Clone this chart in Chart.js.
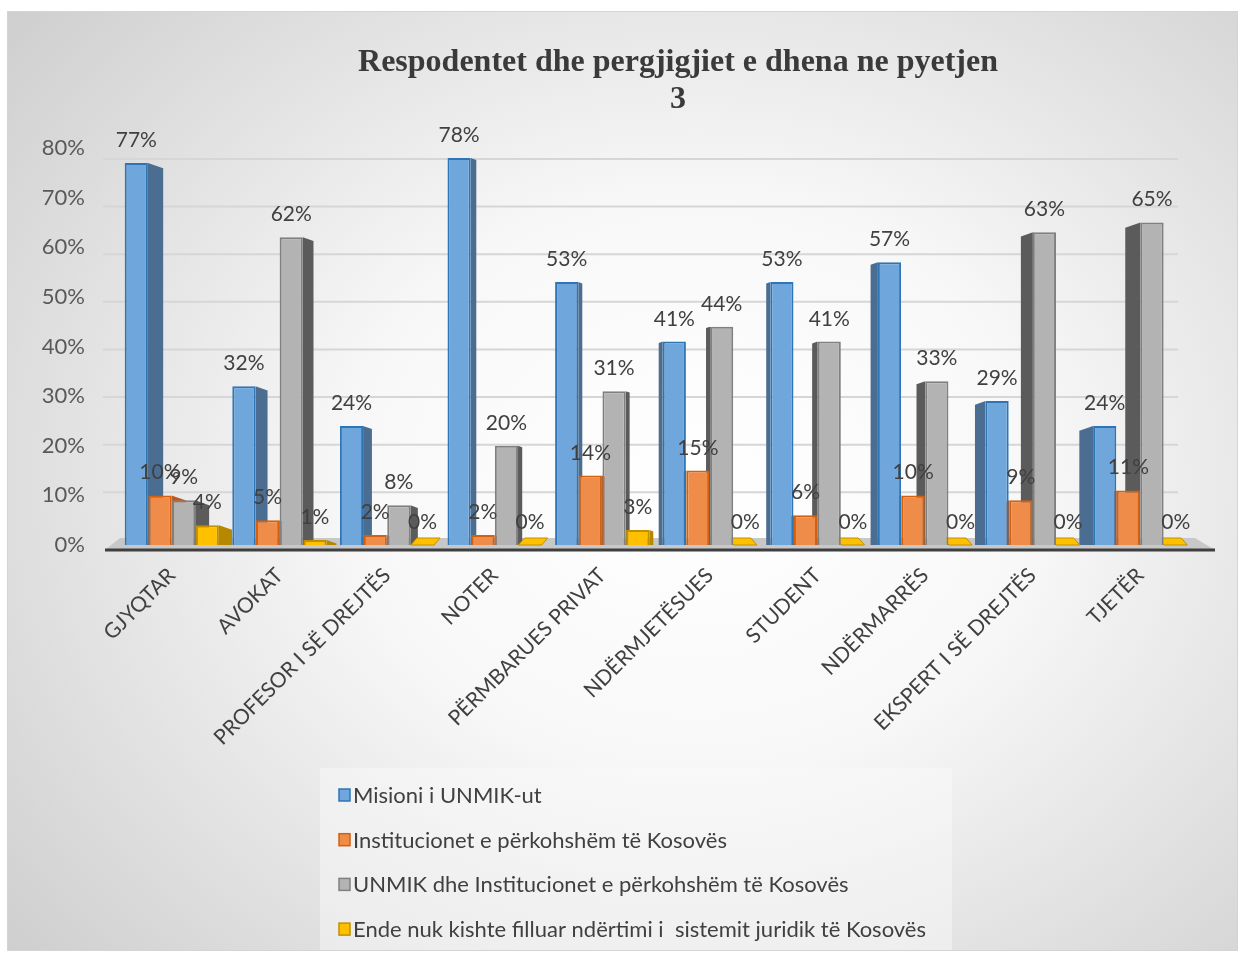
<!DOCTYPE html>
<html><head><meta charset="utf-8">
<script src="https://cdn.jsdelivr.net/npm/chart.js@4"></script>
<style>
html,body{margin:0;padding:0;background:#fff;}
#wrap{position:absolute;left:7px;top:11px;width:1229px;height:938px;border:1px solid #d4d4d4;
background:radial-gradient(ellipse 72% 78% at 56% 50%, #ffffff 0%, #f8f8f8 38%, #cfcfcf 100%);}
canvas{display:block}
</style></head>
<body>
<div id="wrap"><canvas id="c" width="1229" height="938"></canvas></div>
<script>
const titleLines = ["Respodentet dhe pergjigjiet e dhena ne pyetjen", "3"];
const categories = ["GJYQTAR","AVOKAT","PROFESOR I SË DREJTËS","NOTER","PËRMBARUES PRIVAT","NDËRMJETËSUES","STUDENT","NDËRMARRËS","EKSPERT I SË DREJTËS","TJETËR"];
const seriesNames = ["Misioni i UNMIK-ut","Institucionet e përkohshëm të Kosovës","UNMIK dhe Institucionet e përkohshëm të Kosovës","Ende nuk kishte filluar ndërtimi i  sistemit juridik të Kosovës"];
const unmik = [77,32,24,78,53,41,53,57,29,24];
const institucionet = [10,5,2,2,14,15,6,10,9,11];
const teDyja = [9,62,8,20,31,44,41,33,63,65];
const ende = [4,1,0,0,3,0,0,0,0,0];
const yMax = 80, yStep = 10;

const fills = ["#6fa7dc","#f08c4a","#b3b3b3","#ffc000"];
const borders = ["#2e75b6","#d2600f","#808080","#c09000"];
const sides = ["#4b6d92","#c0561a","#5b5b5b","#b58800"];

const FONT = "Lato, 'Open Sans', sans-serif";

const threeD = {
  id: 'threeD',
  beforeDatasetsDraw(chart) {
    const ctx = chart.ctx, a = chart.chartArea, y = chart.scales.y;
    ctx.save();
    ctx.strokeStyle = '#d6d6d6'; ctx.lineWidth = 2;
    for (let v = yStep; v <= yMax; v += yStep) {
      const yf = y.getPixelForValue(v);
      const yb = a.bottom - 5 + (yf - a.bottom) * 0.96;
      ctx.beginPath(); ctx.moveTo(a.left - 15, yb); ctx.lineTo(a.right - 16, yb); ctx.stroke();
    }
    ctx.fillStyle = '#c8c8c8';
    ctx.beginPath();
    ctx.moveTo(a.left - 13, a.bottom + 5); ctx.lineTo(a.right + 21, a.bottom + 5);
    ctx.lineTo(a.right + 1, a.bottom - 7); ctx.lineTo(a.left + 2, a.bottom - 7);
    ctx.closePath(); ctx.fill();
    ctx.strokeStyle = '#3f3f3f'; ctx.lineWidth = 3;
    ctx.beginPath(); ctx.moveTo(a.left - 13, a.bottom + 5); ctx.lineTo(a.right + 21, a.bottom + 5); ctx.stroke();
    const cx = (a.left + a.right) / 2 - 10;
    chart.data.datasets.forEach((ds, i) => {
      const meta = chart.getDatasetMeta(i);
      meta.data.forEach((el, j) => {
        const w = el.width, top = el.y, base = el.base;
        const dist = el.x - cx;
        const d = Math.max(4, Math.min(16, Math.abs(dist) * 0.03));
        const dir = dist < 0 ? 1 : -1;
        const h = base - top;
        if (h < 3) {
          const l = el.x - w / 2, r = el.x + w / 2;
          ctx.fillStyle = fills[i]; ctx.strokeStyle = borders[i]; ctx.lineWidth = 1;
          ctx.beginPath();
          ctx.moveTo(l, base); ctx.lineTo(r, base);
          ctx.lineTo(r + dir * 6, base - 7); ctx.lineTo(l + dir * 6, base - 7);
          ctx.closePath(); ctx.fill(); ctx.stroke();
          return;
        }
        const xe = dir > 0 ? el.x + w / 2 : el.x - w / 2;
        ctx.fillStyle = sides[i];
        ctx.beginPath();
        ctx.moveTo(xe, top); ctx.lineTo(xe + dir * d, top + d * 0.35);
        ctx.lineTo(xe + dir * d, base); ctx.lineTo(xe, base);
        ctx.closePath(); ctx.fill();
      });
    });
    ctx.restore();
  },
  afterDatasetsDraw(chart) {
    const ctx = chart.ctx;
    ctx.save();
    ctx.font = "21px " + FONT; ctx.fillStyle = '#404040';
    ctx.textAlign = 'center'; ctx.textBaseline = 'alphabetic';
    chart.data.datasets.forEach((ds, i) => {
      chart.getDatasetMeta(i).data.forEach((el, j) => {
        ctx.fillText(ds.data[j] + '%', el.x, el.y - 16);
      });
    });
    ctx.restore();
  },
  afterDraw(chart) {
    const ctx = chart.ctx;
    ctx.save();
    ctx.font = "bold 32px 'Liberation Serif', 'DejaVu Serif', serif";
    ctx.fillStyle = '#3a3a3a'; ctx.textAlign = 'center'; ctx.textBaseline = 'middle';
    ctx.fillText(titleLines[0], 670, 51);
    ctx.fillText(titleLines[1], 670, 88);
    ctx.fillStyle = 'rgba(250,250,250,0.45)';
    ctx.fillRect(312, 756, 632, 182);
    ctx.font = "22px " + FONT; ctx.textAlign = 'left';
    chart.data.datasets.forEach((ds, i) => {
      const yy = 783 + i * 44.7;
      ctx.fillStyle = fills[i]; ctx.strokeStyle = borders[i]; ctx.lineWidth = 1.5;
      ctx.fillRect(331, yy - 6, 11, 12); ctx.strokeRect(331, yy - 6, 11, 12);
      ctx.fillStyle = '#404040';
      ctx.fillText(ds.label, 345, yy + 1);
    });
    ctx.restore();
  }
};

const seriesData = [unmik, institucionet, teDyja, ende];
new Chart(document.getElementById('c'), {
  type: 'bar',
  data: {
    labels: categories,
    datasets: seriesData.map((d, i) => ({
      label: seriesNames[i], data: d,
      backgroundColor: fills[i], borderColor: borders[i], borderWidth: 2,
      categoryPercentage: 0.88, barPercentage: 0.98
    }))
  },
  options: {
    responsive: false, animation: false, devicePixelRatio: 1,
    layout: { padding: { top: 136, right: 43, left: 0, bottom: 0 } },
    plugins: { legend: { display: false }, title: { display: false }, tooltip: { enabled: false } },
    scales: {
      x: {
        grid: { display: false }, border: { display: false },
        ticks: { font: { size: 21, family: FONT }, color: '#404040', maxRotation: 45, minRotation: 45, padding: 10, autoSkip: false },
        afterFit(s) { s.height = 405; }
      },
      y: {
        min: 0, max: yMax,
        grid: { display: false, drawTicks: false }, border: { display: false },
        ticks: { stepSize: yStep, font: { size: 22, family: FONT }, color: '#595959', padding: 33,
          callback: v => v + '%' },
        afterFit(s) { s.width = 110; }
      }
    }
  },
  plugins: [threeD]
});
</script>
</body></html>
